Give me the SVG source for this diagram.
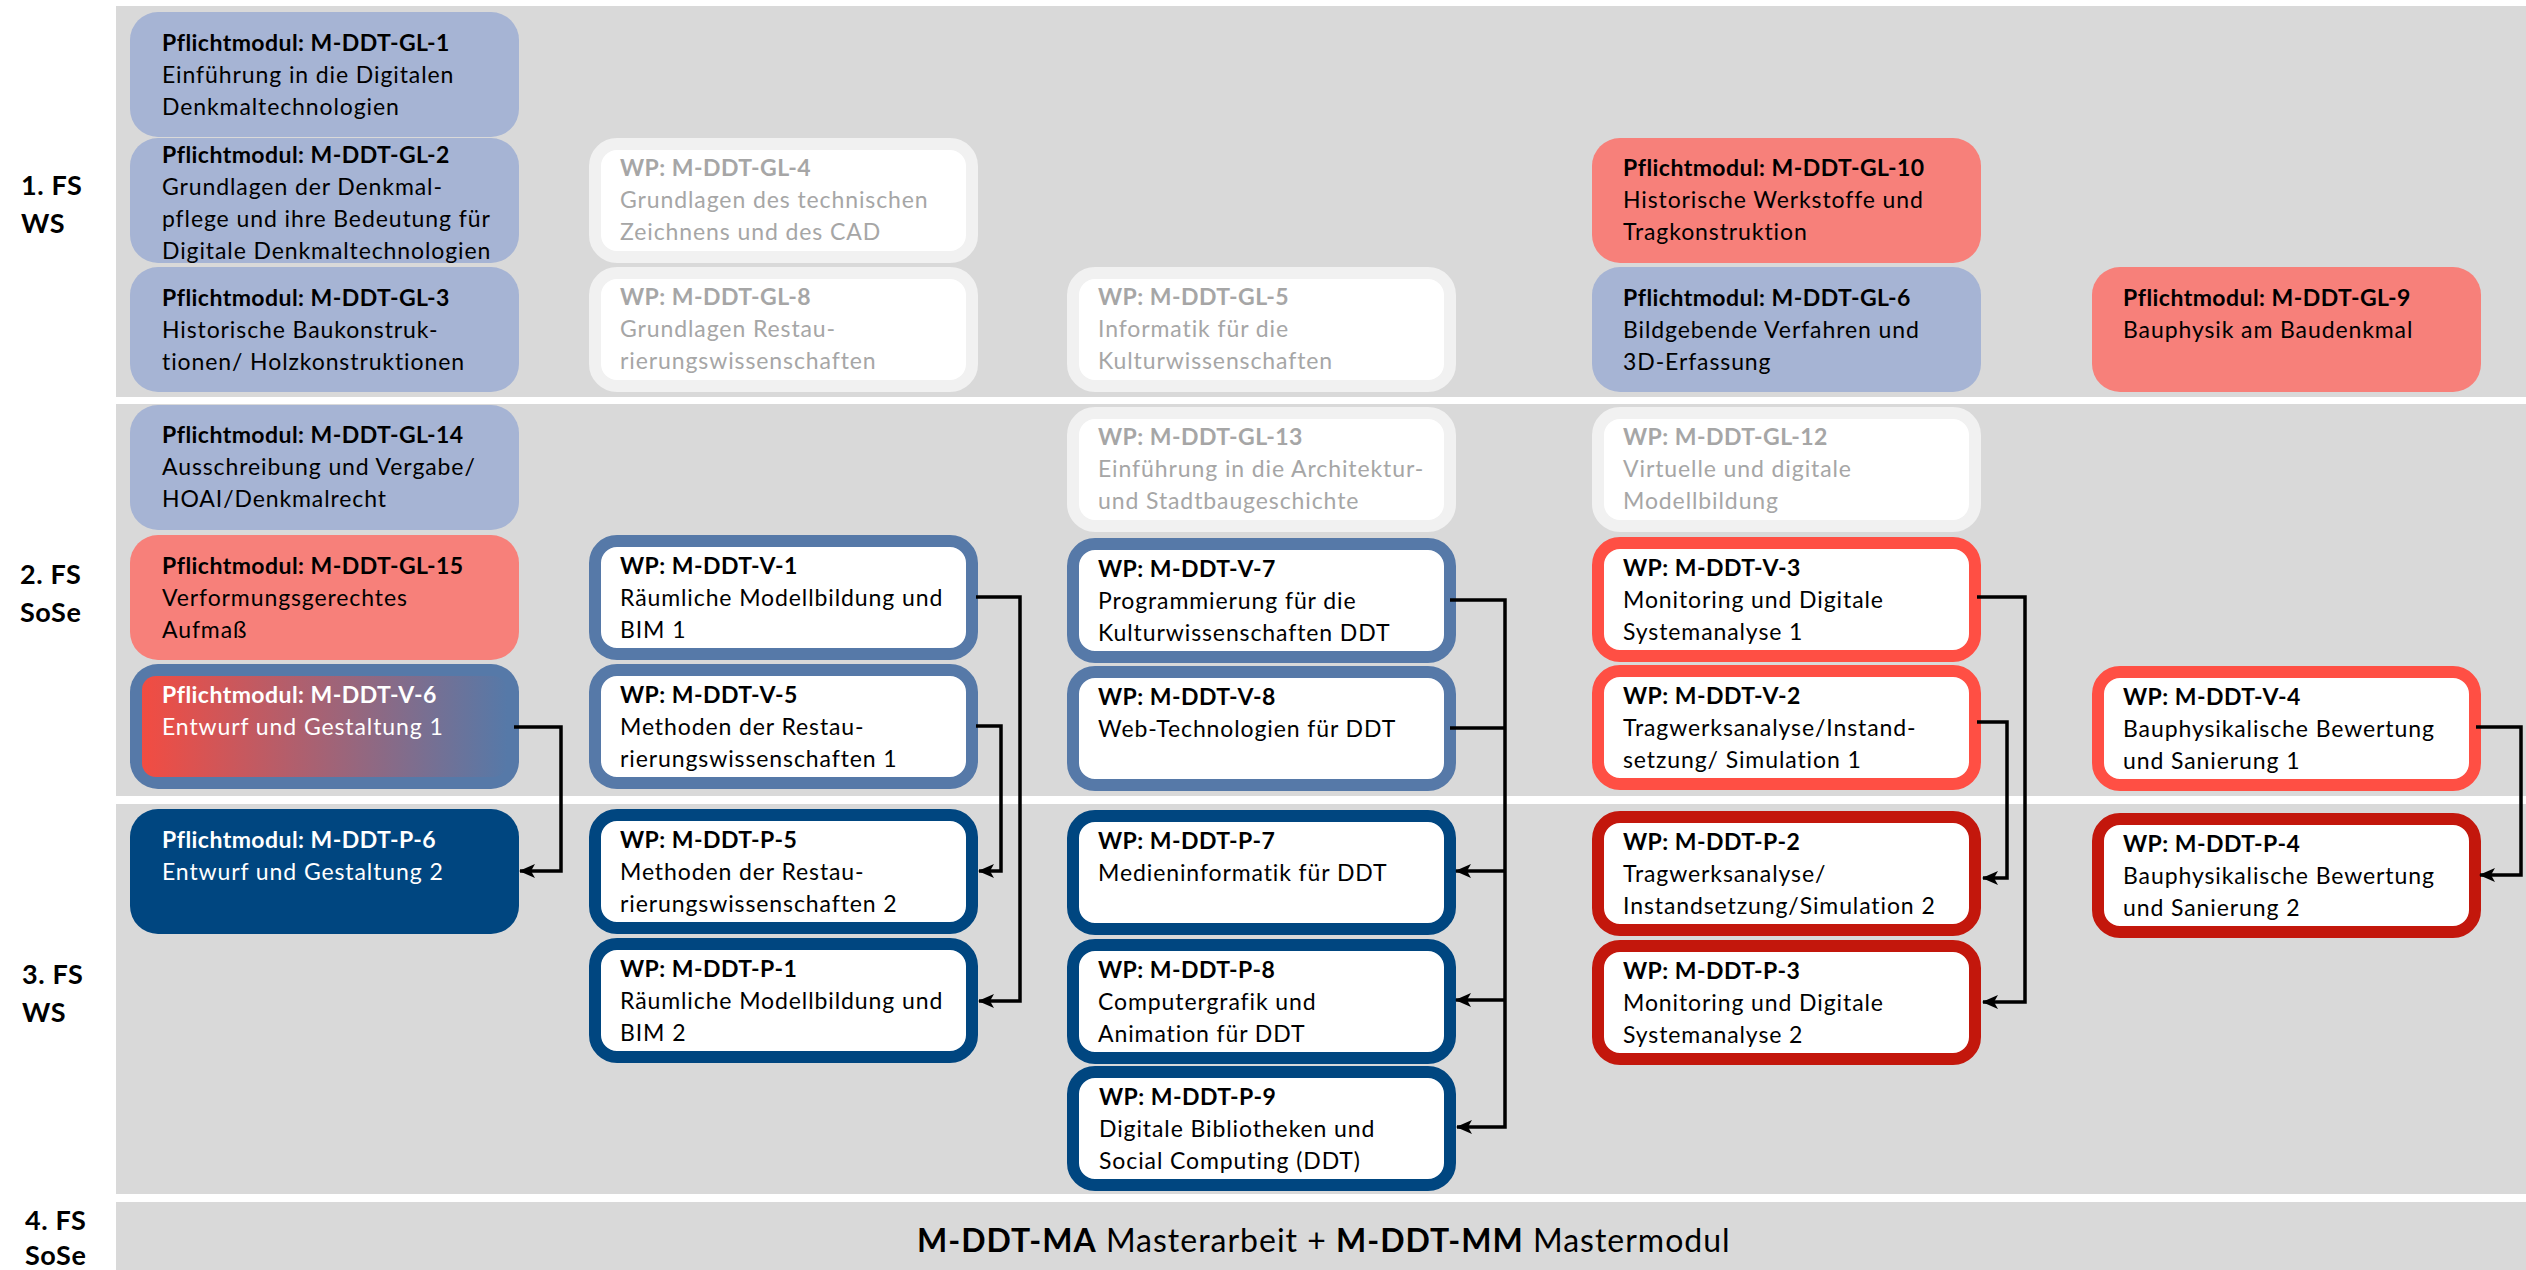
<svg xmlns="http://www.w3.org/2000/svg" width="2526" height="1270" viewBox="0 0 2526 1270">
<style>
.band{fill:#D9D9D9}
text{font-family:Lato,"Open Sans","Liberation Sans",sans-serif;font-size:23px;letter-spacing:0.9px;fill:#000}
.b{font-weight:700;letter-spacing:0.45px}
.g{fill:#A6A6A6}
.w{fill:#FFFFFF}
.lab{font-size:27px;font-weight:700;letter-spacing:0.6px}
.lav{fill:#A6B4D4}
.sal{fill:#F7807A}
.wpg{fill:#FFFFFF;stroke:#F1F1F1;stroke-width:12}
.bl{fill:#FFFFFF;stroke:#5679A8;stroke-width:12}
.rd{fill:#FFFFFF;stroke:#FF4F44;stroke-width:12}
.dbl{fill:#FFFFFF;stroke:#004680;stroke-width:12}
.drd{fill:#FFFFFF;stroke:#C3170C;stroke-width:12}
.con{fill:none;stroke:#000;stroke-width:3.5}
</style>
<defs>
<linearGradient id="grad" x1="0" y1="0" x2="1" y2="0">
<stop offset="0" stop-color="#F24C42"/>
<stop offset="1" stop-color="#5679A8"/>
</linearGradient>
<marker id="arr" markerUnits="userSpaceOnUse" markerWidth="16" markerHeight="14" refX="15" refY="7" orient="auto">
<path d="M0,0 L16,7 L0,14 L4,7 z" fill="#000"/>
</marker>
</defs>
<rect width="2526" height="1270" fill="#FFFFFF"/>
<g id="bands">
<rect class="band" x="116" y="6" width="2410" height="391"/>
<rect class="band" x="116" y="404" width="2410" height="392"/>
<rect class="band" x="116" y="804" width="2410" height="390"/>
<rect class="band" x="116" y="1202" width="2410" height="68"/>
</g>
<g id="labels">
<text class="lab" x="21" y="195">1. FS</text><text class="lab" x="21" y="233">WS</text>
<text class="lab" x="20" y="584">2. FS</text><text class="lab" x="20" y="622">SoSe</text>
<text class="lab" x="22" y="984">3. FS</text><text class="lab" x="22" y="1022">WS</text>
<text class="lab" x="25" y="1230">4. FS</text><text class="lab" x="25" y="1265">SoSe</text>
</g>

<g id="GL-1"><rect class="lav" x="130" y="12" width="389" height="125" rx="28"/>
<text x="162" y="51" class="b">Pflichtmodul: M-DDT-GL-1</text><text x="162" y="83">Einführung in die Digitalen</text><text x="162" y="115">Denkmaltechnologien</text></g>
<g id="GL-2"><rect class="lav" x="130" y="138" width="389" height="125" rx="28"/>
<text x="162" y="163" class="b">Pflichtmodul: M-DDT-GL-2</text><text x="162" y="195">Grundlagen der Denkmal-</text><text x="162" y="227">pflege und ihre Bedeutung für</text><text x="162" y="259">Digitale Denkmaltechnologien</text></g>
<g id="GL-3"><rect class="lav" x="130" y="267" width="389" height="125" rx="28"/>
<text x="162" y="306" class="b">Pflichtmodul: M-DDT-GL-3</text><text x="162" y="338">Historische Baukonstruk-</text><text x="162" y="370">tionen/ Holzkonstruktionen</text></g>
<g id="GL-4"><rect class="wpg" x="595" y="144" width="377" height="113" rx="22"/>
<text x="620" y="176" class="b g">WP: M-DDT-GL-4</text><text x="620" y="208" class="g">Grundlagen des technischen</text><text x="620" y="240" class="g">Zeichnens und des CAD</text></g>
<g id="GL-8"><rect class="wpg" x="595" y="273" width="377" height="113" rx="22"/>
<text x="620" y="305" class="b g">WP: M-DDT-GL-8</text><text x="620" y="337" class="g">Grundlagen Restau-</text><text x="620" y="369" class="g">rierungswissenschaften</text></g>
<g id="GL-5"><rect class="wpg" x="1073" y="273" width="377" height="113" rx="22"/>
<text x="1098" y="305" class="b g">WP: M-DDT-GL-5</text><text x="1098" y="337" class="g">Informatik für die</text><text x="1098" y="369" class="g">Kulturwissenschaften</text></g>
<g id="GL-10"><rect class="sal" x="1592" y="138" width="389" height="125" rx="28"/>
<text x="1623" y="176" class="b">Pflichtmodul: M-DDT-GL-10</text><text x="1623" y="208">Historische Werkstoffe und</text><text x="1623" y="240">Tragkonstruktion</text></g>
<g id="GL-6"><rect class="lav" x="1592" y="267" width="389" height="125" rx="28"/>
<text x="1623" y="306" class="b">Pflichtmodul: M-DDT-GL-6</text><text x="1623" y="338">Bildgebende Verfahren und</text><text x="1623" y="370">3D-Erfassung</text></g>
<g id="GL-9"><rect class="sal" x="2092" y="267" width="389" height="125" rx="28"/>
<text x="2123" y="306" class="b">Pflichtmodul: M-DDT-GL-9</text><text x="2123" y="338">Bauphysik am Baudenkmal</text></g>

<g id="GL-14"><rect class="lav" x="130" y="405" width="389" height="125" rx="28"/>
<text x="162" y="443" class="b">Pflichtmodul: M-DDT-GL-14</text><text x="162" y="475">Ausschreibung und Vergabe/</text><text x="162" y="507">HOAI/Denkmalrecht</text></g>
<g id="GL-13"><rect class="wpg" x="1073" y="413" width="377" height="113" rx="22"/>
<text x="1098" y="445" class="b g">WP: M-DDT-GL-13</text><text x="1098" y="477" class="g">Einführung in die Architektur-</text><text x="1098" y="509" class="g">und Stadtbaugeschichte</text></g>
<g id="GL-12"><rect class="wpg" x="1598" y="413" width="377" height="113" rx="22"/>
<text x="1623" y="445" class="b g">WP: M-DDT-GL-12</text><text x="1623" y="477" class="g">Virtuelle und digitale</text><text x="1623" y="509" class="g">Modellbildung</text></g>
<g id="GL-15"><rect class="sal" x="130" y="535" width="389" height="125" rx="28"/>
<text x="162" y="574" class="b">Pflichtmodul: M-DDT-GL-15</text><text x="162" y="606">Verformungsgerechtes</text><text x="162" y="638">Aufmaß</text></g>
<g id="V-1"><rect class="bl" x="595" y="541" width="377" height="113" rx="22"/>
<text x="620" y="574" class="b">WP: M-DDT-V-1</text><text x="620" y="606">Räumliche Modellbildung und</text><text x="620" y="638">BIM 1</text></g>
<g id="V-7"><rect class="bl" x="1073" y="544" width="377" height="113" rx="22"/>
<text x="1098" y="577" class="b">WP: M-DDT-V-7</text><text x="1098" y="609">Programmierung für die</text><text x="1098" y="641">Kulturwissenschaften DDT</text></g>
<g id="V-3"><rect class="rd" x="1598" y="543" width="377" height="113" rx="22"/>
<text x="1623" y="576" class="b">WP: M-DDT-V-3</text><text x="1623" y="608">Monitoring und Digitale</text><text x="1623" y="640">Systemanalyse 1</text></g>
<g id="V-6"><rect x="130" y="664" width="389" height="125" rx="28" fill="#5679A8"/>
<rect x="142" y="676" width="365" height="101" rx="14" fill="url(#grad)"/>
<text x="162" y="703" class="b w">Pflichtmodul: M-DDT-V-6</text><text x="162" y="735" class="w">Entwurf und Gestaltung 1</text></g>
<g id="V-5"><rect class="bl" x="595" y="670" width="377" height="113" rx="22"/>
<text x="620" y="703" class="b">WP: M-DDT-V-5</text><text x="620" y="735">Methoden der Restau-</text><text x="620" y="767">rierungswissenschaften 1</text></g>
<g id="V-8"><rect class="bl" x="1073" y="672" width="377" height="113" rx="22"/>
<text x="1098" y="705" class="b">WP: M-DDT-V-8</text><text x="1098" y="737">Web-Technologien für DDT</text></g>
<g id="V-2"><rect class="rd" x="1598" y="671" width="377" height="113" rx="22"/>
<text x="1623" y="704" class="b">WP: M-DDT-V-2</text><text x="1623" y="736">Tragwerksanalyse/Instand-</text><text x="1623" y="768">setzung/ Simulation 1</text></g>
<g id="V-4"><rect class="rd" x="2098" y="672" width="377" height="113" rx="22"/>
<text x="2123" y="705" class="b">WP: M-DDT-V-4</text><text x="2123" y="737">Bauphysikalische Bewertung</text><text x="2123" y="769">und Sanierung 1</text></g>

<g id="P-6"><rect x="130" y="809" width="389" height="125" rx="28" fill="#004680"/>
<text x="162" y="848" class="b w">Pflichtmodul: M-DDT-P-6</text><text x="162" y="880" class="w">Entwurf und Gestaltung 2</text></g>
<g id="P-5"><rect class="dbl" x="595" y="815" width="377" height="113" rx="22"/>
<text x="620" y="848" class="b">WP: M-DDT-P-5</text><text x="620" y="880">Methoden der Restau-</text><text x="620" y="912">rierungswissenschaften 2</text></g>
<g id="P-7"><rect class="dbl" x="1073" y="816" width="377" height="113" rx="22"/>
<text x="1098" y="849" class="b">WP: M-DDT-P-7</text><text x="1098" y="881">Medieninformatik für DDT</text></g>
<g id="P-2"><rect class="drd" x="1598" y="817" width="377" height="113" rx="22"/>
<text x="1623" y="850" class="b">WP: M-DDT-P-2</text><text x="1623" y="882">Tragwerksanalyse/</text><text x="1623" y="914">Instandsetzung/Simulation 2</text></g>
<g id="P-4"><rect class="drd" x="2098" y="819" width="377" height="113" rx="22"/>
<text x="2123" y="852" class="b">WP: M-DDT-P-4</text><text x="2123" y="884">Bauphysikalische Bewertung</text><text x="2123" y="916">und Sanierung 2</text></g>
<g id="P-1"><rect class="dbl" x="595" y="944" width="377" height="113" rx="22"/>
<text x="620" y="977" class="b">WP: M-DDT-P-1</text><text x="620" y="1009">Räumliche Modellbildung und</text><text x="620" y="1041">BIM 2</text></g>
<g id="P-8"><rect class="dbl" x="1073" y="945" width="377" height="113" rx="22"/>
<text x="1098" y="978" class="b">WP: M-DDT-P-8</text><text x="1098" y="1010">Computergrafik und</text><text x="1098" y="1042">Animation für DDT</text></g>
<g id="P-3"><rect class="drd" x="1598" y="946" width="377" height="113" rx="22"/>
<text x="1623" y="979" class="b">WP: M-DDT-P-3</text><text x="1623" y="1011">Monitoring und Digitale</text><text x="1623" y="1043">Systemanalyse 2</text></g>
<g id="P-9"><rect class="dbl" x="1073" y="1072" width="377" height="113" rx="22"/>
<text x="1099" y="1105" class="b">WP: M-DDT-P-9</text><text x="1099" y="1137">Digitale Bibliotheken und</text><text x="1099" y="1169">Social Computing (DDT)</text></g>

<g id="MA"><text x="917" y="1252" style="font-size:32px;letter-spacing:1px"><tspan style="font-weight:700">M-DDT-MA</tspan> Masterarbeit + <tspan style="font-weight:700">M-DDT-MM</tspan> Mastermodul</text></g>

<g id="connectors">
<path class="con" d="M514,727 H561 V871 H520" marker-end="url(#arr)"/>
<path class="con" d="M976,597 H1020 V1001 H979" marker-end="url(#arr)"/>
<path class="con" d="M976,726 H1001 V871 H979" marker-end="url(#arr)"/>
<path class="con" d="M1450,600 H1505 V1127 H1457" marker-end="url(#arr)"/>
<path class="con" d="M1450,728 H1505"/>
<path class="con" d="M1505,871 H1456" marker-end="url(#arr)"/>
<path class="con" d="M1505,1000 H1456" marker-end="url(#arr)"/>
<path class="con" d="M1977,597 H2025 V1002 H1983" marker-end="url(#arr)"/>
<path class="con" d="M1977,722 H2007 V878 H1983" marker-end="url(#arr)"/>
<path class="con" d="M2476,727 H2521 V875 H2480" marker-end="url(#arr)"/>
</g>
</svg>
